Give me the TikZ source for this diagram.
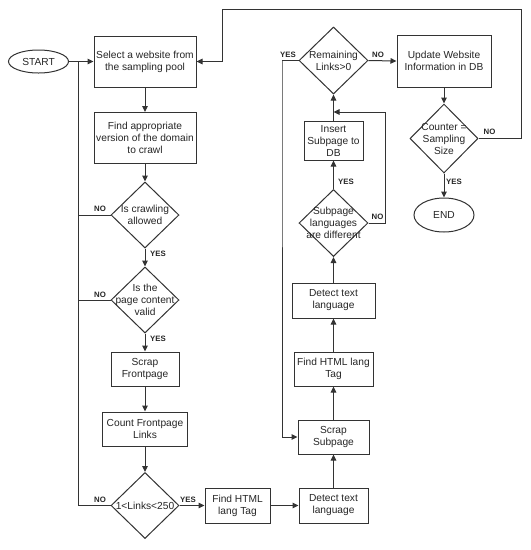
\documentclass[tikz,border=0pt]{standalone}
\usepackage{fontspec}
\setmainfont{Liberation Sans}
\usetikzlibrary{shapes.geometric,arrows.meta}
\begin{document}
\begin{tikzpicture}[x=1pt,y=-1pt,
  every node/.style={font=\fontsize{10.2}{12}\selectfont, align=center, text=black!85, inner sep=0pt},
  ln/.style={draw=black!80, line width=1pt},
  arr/.style={ln, -{Triangle[length=6pt,width=5.5pt]}},
  box/.style={draw=black!80, line width=1pt, rectangle},
  dia/.style={draw=black!80, line width=1pt, diamond, minimum width=68pt, minimum height=66pt},
  ell/.style={draw=black!80, line width=1pt, ellipse},
  lab/.style={font=\fontsize{7.8}{8}\selectfont\bfseries, text=black!85}
]
\useasboundingbox (0,0) rectangle (531,550);
\fill[white] (0,0) rectangle (531,550);

% left column
\node[ell, minimum width=60pt, minimum height=23pt] (start) at (38.5,61.5) {START};
\node[box, minimum width=102pt, minimum height=51pt] (sel) at (145,61.5) {Select a website from\\the sampling pool};
\node[box, minimum width=102pt, minimum height=51pt] (find) at (145,138) {Find appropriate\\version of the domain\\to crawl};
\node[dia] (crawl) at (145,215) {};
\node (crawlt) at (crawl) {Is crawling\\allowed};
\node[dia] (pcv) at (145,300) {};
\node (pcvt) at (pcv) {Is the\\page content\\valid};
\node[box, minimum width=68pt, minimum height=34pt] (scrap) at (145,369) {Scrap\\Frontpage};
\node[box, minimum width=85pt, minimum height=34pt] (count) at (145,429) {Count Frontpage\\Links};
\node[dia] (links) at (145,505.5) {};
\node (linkst) at (links) {1<Links<250};

% bottom row / right middle column
\node[box, minimum width=65pt, minimum height=35pt] (fh1) at (237.5,505.5) {Find HTML\\lang Tag};
\node[box, minimum width=69pt, minimum height=35pt] (dt1) at (333.5,505.5) {Detect text\\language};
\node[box, minimum width=71pt, minimum height=34pt] (ssub) at (333.5,437) {Scrap\\Subpage};
\node[box, minimum width=79pt, minimum height=34pt] (fh2) at (333.5,369) {Find HTML lang\\Tag};
\node[box, minimum width=83pt, minimum height=35pt] (dt2) at (333.5,300.5) {Detect text\\language};
\node[dia, minimum width=69pt, minimum height=67pt] (sld) at (333.5,223) {};
\node (sldt) at (sld) {Subpage\\languages\\are different};
\node[box, minimum width=59pt, minimum height=39pt] (ins) at (333.5,140.5) {Insert\\Subpage to\\DB};
\node[dia, minimum width=69pt, minimum height=67pt] (rem) at (333.5,60.5) {};
\node (remt) at (rem) {Remaining\\Links>0};

% right column
\node[box, minimum width=94pt, minimum height=52pt] (upd) at (444,61) {Update Website\\Information in DB};
\node[dia, minimum width=68pt, minimum height=69pt] (cnt) at (444,138.5) {};
\node (cntt) at (cnt) {Counter =\\Sampling\\Size};
\node[ell, minimum width=60pt, minimum height=34pt] (end) at (444,215) {END};

% junction coordinates
\coordinate (jl) at (78,61.5);
\coordinate (jr) at (282,61);
\coordinate (jm) at (333.5,112);
\coordinate (jt) at (222.7,9);
\coordinate (jfar) at (521.7,9);

% connectors
\draw[arr] (start) -- (sel);
\draw[arr] (sel) -- (find);
\draw[arr] (find) -- (crawl.north);
\draw[arr] (crawl.south) -- (pcv.north);
\draw[arr] (pcv.south) -- (scrap);
\draw[arr] (scrap) -- (count);
\draw[arr] (count) -- (links.north);
\draw[ln] (crawl.west) -- (crawl.west -| jl);
\draw[ln] (pcv.west) -- (pcv.west -| jl);
\draw[ln] (links.west) -| (jl);
\draw[arr] (links.east) -- (fh1.west);
\draw[arr] (fh1.east) -- (dt1.west);
\draw[arr] (dt1.north) -- (ssub.south);
\draw[arr] (ssub.north) -- (fh2.south);
\draw[arr] (fh2.north) -- (dt2.south);
\draw[arr] (dt2.north) -- (sld.south);
\draw[arr] (sld.north) -- (ins.south);
\draw[arr] (ins.north) -- (rem.south);
\draw[arr] (sld.east) -- ++(17,0) |- (jm);
\draw[arr] (rem.west) -| (jr) |- (ssub.west);
\draw[arr] (rem.east) -- (upd.west);
\draw[arr] (upd.south) -- (cnt.north);
\draw[arr] (cnt.south) -- (end.north);
\draw[arr] (cnt.east) -| (jfar) -| (jt) |- (sel.east);

% labels
\node[lab] (l1) at (100,209) {NO};
\node[lab] (l2) at (158,254) {YES};
\node[lab] (l3) at (100,295) {NO};
\node[lab] (l4) at (158,339) {YES};
\node[lab] (l5) at (100,500) {NO};
\node[lab] (l6) at (188,499.5) {YES};
\node[lab] (l7) at (288,54.5) {YES};
\node[lab] (l8) at (378,54.5) {NO};
\node[lab] (l9) at (346,182) {YES};
\node[lab] (l10) at (377.5,217) {NO};
\node[lab] (l11) at (489.5,132) {NO};
\node[lab] (l12) at (454,182) {YES};
\end{tikzpicture}
\end{document}
